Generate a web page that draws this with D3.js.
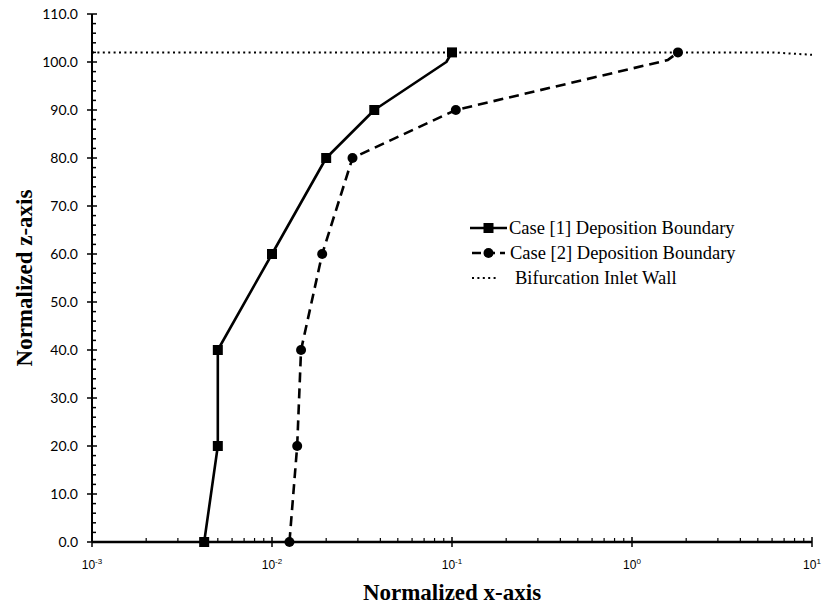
<!DOCTYPE html>
<html>
<head>
<meta charset="utf-8">
<script src="https://cdn.jsdelivr.net/npm/d3@7"></script>
<style>
  html, body { margin: 0; padding: 0; background: #fff; }
  svg { display: block; }
</style>
</head>
<body>
<svg id="chart" width="822" height="606"></svg>
<script>
// Deposition boundary profiles (x on log scale, z linear)
const case1X = [0.0042, 0.005, 0.005, 0.010, 0.020, 0.037, 0.093, 0.100];
const case1Z = [0, 20, 40, 60, 80, 90, 100, 102];
const case1Marked = [true, true, true, true, true, true, false, true];

const case2X = [0.0125, 0.0138, 0.0145, 0.019, 0.028, 0.105, 1.58, 1.80];
const case2Z = [0, 20, 40, 60, 80, 90, 100.4, 102];
const case2Marked = [true, true, true, true, true, true, false, true];

// Inlet wall reference line
const wallX = [0.001, 6, 10];
const wallZ = [102, 102, 101.5];

const yTicks = [0, 10, 20, 30, 40, 50, 60, 70, 80, 90, 100, 110];
const xDecades = [-3, -2, -1, 0, 1];

const legendLabels = [
  "Case [1] Deposition Boundary",
  "Case [2] Deposition Boundary",
  "Bifurcation Inlet Wall"
];

const svg = d3.select("#chart");
const plotL = 92, plotR = 812, plotT = 14, plotB = 542;

const x = d3.scaleLog().domain([1e-3, 1e1]).range([plotL, plotR]);
const y = d3.scaleLinear().domain([0, 110]).range([plotB, plotT]);

const serif = "'Liberation Serif', 'Times New Roman', serif";

// ---- Y axis ----
const yAxis = svg.append("g").attr("transform", `translate(${plotL},0)`);
yAxis.append("line")
  .attr("x1", 0).attr("x2", 0).attr("y1", y(110)).attr("y2", y(0))
  .attr("stroke", "#000").attr("stroke-width", 2);
// minor ticks every 2 units, inside
d3.range(0, 110.1, 2).filter(v => v % 10 !== 0).forEach(v => {
  yAxis.append("line").attr("x1", 0).attr("x2", 4)
    .attr("y1", y(v)).attr("y2", y(v)).attr("stroke", "#000").attr("stroke-width", 1.5);
});
yTicks.forEach(v => {
  yAxis.append("line").attr("x1", -5).attr("x2", 5)
    .attr("y1", y(v)).attr("y2", y(v)).attr("stroke", "#000").attr("stroke-width", 1.5);
  yAxis.append("text")
    .attr("x", -14).attr("y", y(v)).attr("dy", "0.35em")
    .attr("text-anchor", "end")
    .attr("font-family", "Lato, 'Open Sans', sans-serif")
    .attr("font-size", 14).attr("fill", "#000")
    .text(d3.format(".1f")(v));
});

// ---- X axis ----
const xAxis = svg.append("g").attr("transform", `translate(0,${plotB})`);
xAxis.append("line")
  .attr("x1", x(1e-3)).attr("x2", x(1e1)).attr("y1", 0).attr("y2", 0)
  .attr("stroke", "#000").attr("stroke-width", 2.5);
xDecades.slice(0, -1).forEach(e => {
  for (let m = 2; m <= 9; m++) {
    const v = m * Math.pow(10, e);
    xAxis.append("line").attr("x1", x(v)).attr("x2", x(v))
      .attr("y1", 0).attr("y2", -4).attr("stroke", "#000").attr("stroke-width", 1.2);
  }
});
xDecades.forEach(e => {
  const v = Math.pow(10, e);
  xAxis.append("line").attr("x1", x(v)).attr("x2", x(v))
    .attr("y1", -5).attr("y2", 5).attr("stroke", "#000").attr("stroke-width", 1.5);
  const t = xAxis.append("text")
    .attr("x", x(v)).attr("y", 27)
    .attr("text-anchor", "middle")
    .attr("font-family", "'Liberation Sans Narrow', 'Arial Narrow', sans-serif")
    .attr("font-size", 12).attr("fill", "#000");
  t.append("tspan").text("10");
  t.append("tspan").attr("dy", -5).attr("font-size", 8).text(e);
});

// ---- Axis titles ----
svg.append("text")
  .attr("x", (plotL + plotR) / 2).attr("y", 600)
  .attr("text-anchor", "middle")
  .attr("font-family", serif).attr("font-weight", "bold").attr("font-size", 23)
  .text("Normalized x-axis");
svg.append("text")
  .attr("transform", `translate(32,${(plotT + plotB) / 2}) rotate(-90)`)
  .attr("text-anchor", "middle")
  .attr("font-family", serif).attr("font-weight", "bold").attr("font-size", 23)
  .text("Normalized z-axis");

// ---- Series ----
const zip = (xs, zs, ms) => xs.map((v, i) => ({ x: v, z: zs[i], m: ms ? ms[i] : false }));
const line = d3.line().x(d => x(d.x)).y(d => y(d.z));

const wall = zip(wallX, wallZ);
const s1 = zip(case1X, case1Z, case1Marked);
const s2 = zip(case2X, case2Z, case2Marked);

svg.append("path").datum(wall).attr("d", line)
  .attr("fill", "none").attr("stroke", "#000").attr("stroke-width", 2)
  .attr("stroke-dasharray", "2 3.4");

svg.append("path").datum(s1).attr("d", line)
  .attr("fill", "none").attr("stroke", "#000").attr("stroke-width", 2.6)
  .attr("stroke-linejoin", "round");
svg.append("path").datum(s2).attr("d", line)
  .attr("fill", "none").attr("stroke", "#000").attr("stroke-width", 2.6)
  .attr("stroke-dasharray", "10 6");

const sq = 10;
svg.append("g").selectAll("rect").data(s1.filter(d => d.m)).join("rect")
  .attr("x", d => x(d.x) - sq / 2).attr("y", d => y(d.z) - sq / 2)
  .attr("width", sq).attr("height", sq).attr("fill", "#000");
svg.append("g").selectAll("circle").data(s2.filter(d => d.m)).join("circle")
  .attr("cx", d => x(d.x)).attr("cy", d => y(d.z)).attr("r", 5).attr("fill", "#000");

// ---- Legend ----
const lg = svg.append("g");
const lx = 470, lw = 37, rows = [228, 253, 278];
lg.append("line").attr("x1", lx).attr("x2", lx + lw).attr("y1", rows[0]).attr("y2", rows[0])
  .attr("stroke", "#000").attr("stroke-width", 2.6);
lg.append("rect").attr("x", lx + lw / 2 - 5).attr("y", rows[0] - 5).attr("width", 10).attr("height", 10);
lg.append("line").attr("x1", lx + 2).attr("x2", lx + lw - 2).attr("y1", rows[1]).attr("y2", rows[1])
  .attr("stroke", "#000").attr("stroke-width", 2.6).attr("stroke-dasharray", "9 5");
lg.append("circle").attr("cx", lx + lw / 2).attr("cy", rows[1]).attr("r", 5);
lg.append("line").attr("x1", lx + 2).attr("x2", lx + 29).attr("y1", rows[2]).attr("y2", rows[2])
  .attr("stroke", "#000").attr("stroke-width", 2).attr("stroke-dasharray", "2 3.4");
const textX = [509, 510, 515];
legendLabels.forEach((t, i) => {
  lg.append("text").attr("x", textX[i]).attr("y", rows[i]).attr("dy", "0.33em")
    .attr("font-family", serif).attr("font-size", 18.5).attr("fill", "#000").text(t);
});
</script>
</body>
</html>
